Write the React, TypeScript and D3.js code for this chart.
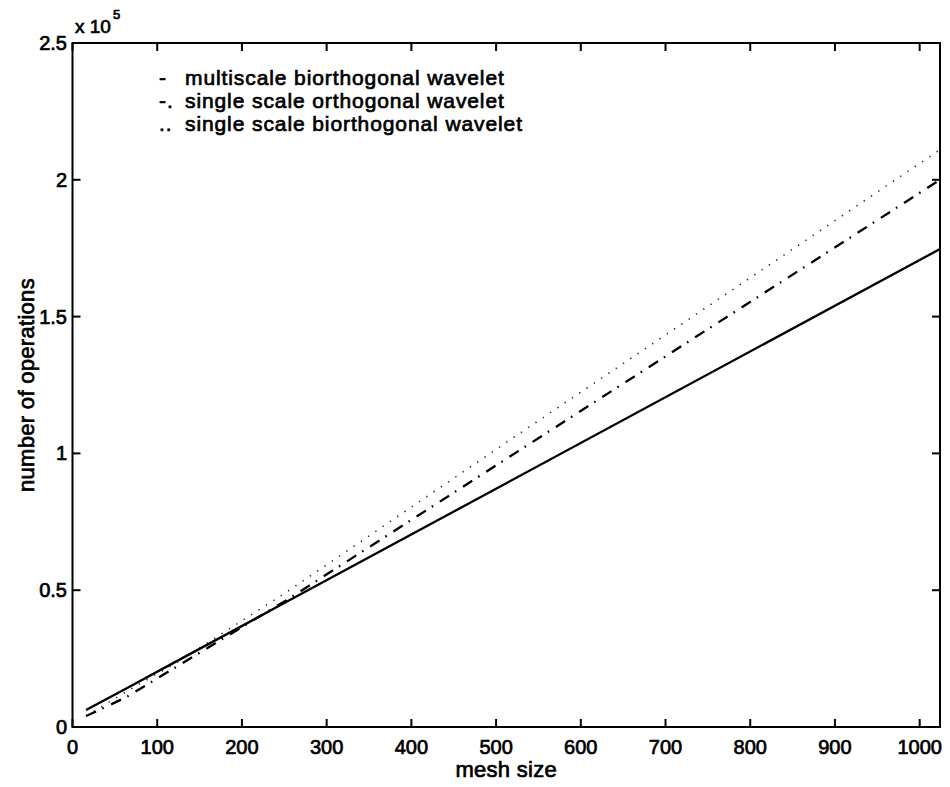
import React from "react";
import * as d3 from "d3";

const meshSizes = [16, 32, 64, 128, 256, 512, 1024];
const multiscaleBiortho = [0.062, 0.089, 0.142, 0.249, 0.463, 0.891, 1.747];
const singleOrtho = [0.04, 0.063, 0.11, 0.23, 0.47, 0.98, 2.0];
const singleBiortho = [0.04, 0.07, 0.13, 0.245, 0.5, 1.04, 2.11];

const xTicks = [0, 100, 200, 300, 400, 500, 600, 700, 800, 900, 1000];
const yTicks = [0, 0.5, 1, 1.5, 2, 2.5];
const yTickLabels = ["0", "0.5", "1", "1.5", "2", "2.5"];

const legendItems = [
  { mark: "-", label: "multiscale biorthogonal wavelet" },
  { mark: "-.", label: "single scale orthogonal wavelet" },
  { mark: "..", label: "single scale biorthogonal wavelet" },
];

const W = 950;
const H = 787;
const L = 72.5, R = 940, T = 43, B = 727;

export default function App() {
  const x = d3.scaleLinear().domain([0, 1024]).range([L, R]);
  const y = d3.scaleLinear().domain([0, 2.5]).range([B, T]);
  const line = d3
    .line<[number, number]>()
    .x((d) => x(d[0]))
    .y((d) => y(d[1]));
  const pts = (vals: number[]) => meshSizes.map((m, i) => [m, vals[i]] as [number, number]);
  const font = "'Liberation Sans', Arial, Helvetica, sans-serif";
  const textStyle = { fontFamily: font, fontSize: 20, fill: "#000", stroke: "#000", strokeWidth: 0.7 } as const;
  const legendStyle = { ...textStyle, fontSize: 21, letterSpacing: 0.9 } as const;
  const labelStyle = { ...textStyle, fontSize: 22, letterSpacing: 0.3 } as const;
  const tl = 8;

  return (
    <svg width={W} height={H} style={{ position: "absolute", left: 0, top: 0, background: "#fff" }}>
      <rect x={0} y={0} width={W} height={H} fill="#fff" />
      {/* data lines */}
      <path d={line(pts(singleBiortho)) || ""} fill="none" stroke="#333" strokeWidth={1.6} strokeDasharray="1.4 7.4" />
      <path d={line(pts(singleOrtho)) || ""} fill="none" stroke="#000" strokeWidth={2.3} strokeDasharray="11 7 1.6 8" />
      <path d={line(pts(multiscaleBiortho)) || ""} fill="none" stroke="#000" strokeWidth={2.3} />

      {/* frame */}
      <rect x={L} y={T} width={R - L} height={B - T} fill="none" stroke="#000" strokeWidth={2} />
      {xTicks.map((t) => (
        <g key={"x" + t}>
          <line x1={x(t)} x2={x(t)} y1={B} y2={B - tl} stroke="#000" strokeWidth={2} />
          <line x1={x(t)} x2={x(t)} y1={T} y2={T + tl} stroke="#000" strokeWidth={2} />
          <text x={x(t)} y={754} textAnchor="middle" style={textStyle}>
            {t}
          </text>
        </g>
      ))}
      {yTicks.map((t, i) => (
        <g key={"y" + t}>
          <line x1={L} x2={L + tl} y1={y(t)} y2={y(t)} stroke="#000" strokeWidth={2} />
          <line x1={R} x2={R - tl} y1={y(t)} y2={y(t)} stroke="#000" strokeWidth={2} />
          <text x={67} y={y(t) + 7} textAnchor="end" style={textStyle}>
            {yTickLabels[i]}
          </text>
        </g>
      ))}

      {/* exponent */}
      <text x={75} y={33} style={{ ...textStyle, fontSize: 19 }}>
        x 10
      </text>
      <text x={113} y={19} style={{ ...textStyle, fontSize: 13 }}>
        5
      </text>

      {/* axis labels */}
      <text x={(L + R) / 2} y={777} textAnchor="middle" style={labelStyle}>
        mesh size
      </text>
      <text
        transform={`translate(34, ${(T + B) / 2}) rotate(-90)`}
        textAnchor="middle"
        style={labelStyle}
      >
        number of operations
      </text>

      {/* legend */}
      {legendItems.map((it, i) => (
        <g key={it.label}>
          <text x={159} y={85 + i * 23} style={legendStyle}>
            {it.mark}
          </text>
          <text x={185} y={85 + i * 23} style={legendStyle}>
            {it.label}
          </text>
        </g>
      ))}
    </svg>
  );
}
